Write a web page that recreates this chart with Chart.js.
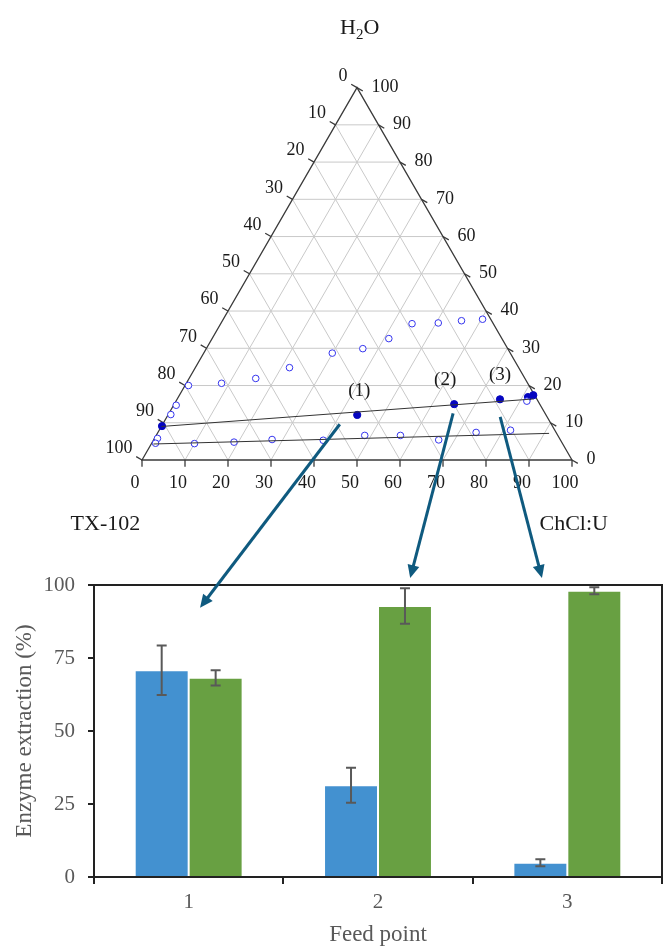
<!DOCTYPE html>
<html>
<head>
<meta charset="utf-8">
<script src="https://cdn.jsdelivr.net/npm/chart.js@4.4.1/dist/chart.umd.min.js"></script>
<style>
  html, body { margin: 0; padding: 0; background: #fff; }
  #wrap { position: relative; width: 663px; height: 946px; overflow: hidden; }
  #wrap canvas { position: absolute; left: 0; top: 0; }
  #ternary { pointer-events: none; }
</style>
</head>
<body>
<div id="wrap">
  <canvas id="bars" width="663" height="946"></canvas>
  <canvas id="ternary" width="663" height="946"></canvas>
</div>
<script>
// ---------- Phase diagram, compositions in wt % ----------
// binodal points (open circles)
const binodalChCl = [0.8, 8.2, 15.5, 21.9, 29.9, 36.4, 41.1, 44.5, 50.5, 55.6, 60.3,
                     0.6, 0.6, 0.7, 0.9,
                     10.0, 19.0, 27.5, 39.5, 48.5, 56.8, 66.3, 74.0, 81.7, 81.6];
const binodalH2O  = [20.0, 20.6, 21.9, 24.8, 28.7, 29.9, 32.6, 36.6, 36.8, 37.4, 37.8,
                     14.7, 12.2, 5.8, 4.5,
                     4.4, 4.8, 5.5, 5.3, 6.6, 6.6, 5.4, 7.4, 8.0, 15.8];
// coexisting phase compositions (filled)
const phaseChCl = [0.1, 82.3, 81.3];
const phaseH2O  = [9.1, 17.4, 16.9];
// feed points (1), (2), (3)
const feedChCl = [44.0, 65.1, 75.1];
const feedH2O  = [12.1, 15.0, 16.3];
const feedNames = ['(1)', '(2)', '(3)'];
// tie lines: [start, end]
const tieUpperChCl = [0.0, 82.9];
const tieUpperH2O  = [9.0, 16.4];
const tieLowerChCl = [0.5, 91.1];
const tieLowerH2O  = [4.3, 7.15];
// axis ticks
const ternaryTicks = [0, 10, 20, 30, 40, 50, 60, 70, 80, 90, 100];

// ---------- Enzyme extraction ----------
const feedPoints = ['1', '2', '3'];
const extractionBlue = [70.8, 31.4, 4.9];
const errorBlue      = [8.5, 6.0, 1.2];
const extractionGreen = [68.2, 92.8, 98.0];
const errorGreen      = [2.6, 6.1, 1.2];
const extractionTicks = [0, 25, 50, 75, 100];

// arrows from the diagram to the bar groups
const arrowFromChCl = [41.2, 66.1, 77.5];
const arrowFromH2O  = [9.6, 12.5, 11.6];
const arrowToIndex  = [0.06, 1.17, 1.866];
const arrowToValue  = [92.2, 102.4, 102.4];

const SERIF = '"Liberation Serif", "Times New Roman", serif';
const H = Math.sqrt(3) / 2;
// ternary (ChCl:U, H2O) -> cartesian on a unit-100 triangle
function tern(c, w) { return { x: c + w / 2, y: w * H }; }

// ---------- bar chart ----------
const errorBars = {
  id: 'errorBars',
  afterDatasetsDraw(chart) {
    const ctx = chart.ctx, ys = chart.scales.y;
    [errorBlue, errorGreen].forEach((errs, di) => {
      const meta = chart.getDatasetMeta(di);
      meta.data.forEach((bar, i) => {
        const v = chart.data.datasets[di].data[i];
        const yt = ys.getPixelForValue(v + errs[i]);
        const yb = ys.getPixelForValue(v - errs[i]);
        ctx.save();
        ctx.strokeStyle = '#595959';
        ctx.lineWidth = 2;
        ctx.beginPath();
        ctx.moveTo(bar.x, yt); ctx.lineTo(bar.x, yb);
        ctx.moveTo(bar.x - 5, yt); ctx.lineTo(bar.x + 5, yt);
        ctx.moveTo(bar.x - 5, yb); ctx.lineTo(bar.x + 5, yb);
        ctx.stroke();
        ctx.restore();
      });
    });
  },
  afterDraw(chart) {
    const { ctx, chartArea: a } = chart;
    ctx.save();
    ctx.strokeStyle = '#222';
    ctx.lineWidth = 2;
    ctx.beginPath();
    ctx.moveTo(a.left, a.top); ctx.lineTo(a.right, a.top); ctx.lineTo(a.right, a.bottom);
    ctx.stroke();
    ctx.restore();
  }
};

const barChart = new Chart(document.getElementById('bars'), {
  type: 'bar',
  data: {
    labels: feedPoints,
    datasets: [
      { data: extractionBlue, backgroundColor: '#4391d0', borderColor: 'rgba(255,255,255,0.55)', borderWidth: 1 },
      { data: extractionGreen, backgroundColor: '#68a042', borderColor: 'rgba(255,255,255,0.55)', borderWidth: 1 }
    ]
  },
  options: {
    responsive: false,
    animation: false,
    devicePixelRatio: 1,
    layout: { padding: { left: 0, right: 1, top: 585, bottom: 0 } },
    datasets: { bar: { categoryPercentage: 0.57, barPercentage: 1 } },
    plugins: { legend: { display: false }, tooltip: { enabled: false } },
    scales: {
      x: {
        grid: { offset: true, drawOnChartArea: false, tickLength: 7, color: '#222', lineWidth: 2 },
        border: { color: '#222', width: 2 },
        ticks: { color: '#595959', font: { family: SERIF, size: 21 }, padding: 6 },
        title: { display: true, text: 'Feed point', color: '#595959',
                 font: { family: SERIF, size: 23, lineHeight: 1 }, padding: { top: 0, bottom: 0 } },
        afterFit(s) { s.height = 69; }
      },
      y: {
        min: 0, max: 100,
        afterBuildTicks(s) { s.ticks = extractionTicks.map(v => ({ value: v })); },
        grid: { drawOnChartArea: false, tickLength: 6, color: '#222', lineWidth: 2 },
        border: { color: '#222', width: 2 },
        ticks: { color: '#595959', font: { family: SERIF, size: 21 }, padding: 13 },
        title: { display: true, text: 'Enzyme extraction (%)', color: '#595959',
                 font: { family: SERIF, size: 23 }, padding: { top: 11, bottom: 0 } },
        afterFit(s) { s.width = 94; }
      }
    }
  },
  plugins: [errorBars]
});

// ---------- ternary diagram ----------
function pt(chart, c, w) {
  const p = tern(c, w);
  return { x: chart.scales.x.getPixelForValue(p.x), y: chart.scales.y.getPixelForValue(p.y) };
}
function line(ctx, a, b) { ctx.moveTo(a.x, a.y); ctx.lineTo(b.x, b.y); }

const ternaryFrame = {
  id: 'ternaryFrame',
  beforeDatasetsDraw(chart) {
    const ctx = chart.ctx;
    ctx.save();
    // grid
    ctx.strokeStyle = '#c9c9c9';
    ctx.lineWidth = 1;
    ctx.beginPath();
    ternaryTicks.slice(1, -1).forEach(v => {
      line(ctx, pt(chart, 0, v), pt(chart, 100 - v, v));          // constant H2O
      line(ctx, pt(chart, v, 0), pt(chart, v, 100 - v));          // constant ChCl:U
      line(ctx, pt(chart, 100 - v, 0), pt(chart, 0, 100 - v));    // constant TX-102
    });
    ctx.stroke();
    // frame
    ctx.strokeStyle = '#3a3a3a';
    ctx.lineWidth = 1.3;
    ctx.beginPath();
    const A = pt(chart, 0, 0), B = pt(chart, 100, 0), C = pt(chart, 0, 100);
    ctx.moveTo(A.x, A.y); ctx.lineTo(B.x, B.y); ctx.lineTo(C.x, C.y); ctx.closePath();
    ctx.stroke();
    // ticks
    ctx.beginPath();
    ternaryTicks.forEach(v => {
      line(ctx, pt(chart, v, 0), pt(chart, v + 0.9, -1.8));             // bottom
      line(ctx, pt(chart, 0, 100 - v), pt(chart, -1.8, 100 - v + 0.9)); // left
      line(ctx, pt(chart, 100 - v, v), pt(chart, 100 - v + 1.8, v - 0.9)); // right
    });
    ctx.stroke();
    // tick labels
    ctx.fillStyle = '#1a1a1a';
    ctx.font = '18px ' + SERIF;
    ctx.textBaseline = 'middle';
    ternaryTicks.forEach(v => {
      const b = pt(chart, v, 0);
      ctx.textAlign = 'center';
      ctx.fillText(String(v), b.x - 7, b.y + 23);
      const l = pt(chart, 0, 100 - v);
      ctx.textAlign = 'right';
      ctx.fillText(String(v), l.x - 9.5, l.y - 11.5);
      const r = pt(chart, 100 - v, v);
      ctx.textAlign = 'left';
      ctx.fillText(String(v), r.x + 14.5, r.y - 0.5);
    });
    // component names
    ctx.textBaseline = 'alphabetic';
    ctx.font = '22px ' + SERIF;
    ctx.textAlign = 'center';
    ctx.fillText('TX-102', A.x - 36.6, A.y + 70);
    ctx.fillText('ChCl:U', B.x + 1.7, B.y + 70);
    // H2O with subscript
    ctx.textAlign = 'left';
    let x0 = C.x - 17, y0 = C.y - 54;
    ctx.fillText('H', x0, y0);
    x0 += ctx.measureText('H').width;
    ctx.font = '15px ' + SERIF;
    ctx.fillText('2', x0, y0 + 5);
    x0 += ctx.measureText('2').width;
    ctx.font = '22px ' + SERIF;
    ctx.fillText('O', x0, y0);
    ctx.restore();
  },
  afterDatasetsDraw(chart) {
    const ctx = chart.ctx;
    ctx.save();
    // feed labels
    const dx = [2, -9, 0];
    ctx.fillStyle = '#1a1a1a';
    ctx.font = '19px ' + SERIF;
    ctx.textAlign = 'center';
    ctx.textBaseline = 'middle';
    feedNames.forEach((n, i) => {
      const p = pt(chart, feedChCl[i], feedH2O[i]);
      ctx.fillText(n, p.x + dx[i], p.y - 24);
    });
    // arrows to the bar chart
    const bx = barChart.scales.x, by = barChart.scales.y;
    ctx.strokeStyle = '#0f5a7f';
    ctx.fillStyle = '#0f5a7f';
    ctx.lineWidth = 3;
    arrowFromChCl.forEach((c, i) => {
      const s = pt(chart, c, arrowFromH2O[i]);
      const e = { x: bx.getPixelForValue(arrowToIndex[i]), y: by.getPixelForValue(arrowToValue[i]) };
      const ang = Math.atan2(e.y - s.y, e.x - s.x);
      const head = 13, half = 6;
      const bxp = e.x - Math.cos(ang) * head, byp = e.y - Math.sin(ang) * head;
      ctx.beginPath();
      ctx.moveTo(s.x, s.y);
      ctx.lineTo(e.x - Math.cos(ang) * (head - 2), e.y - Math.sin(ang) * (head - 2));
      ctx.stroke();
      ctx.beginPath();
      ctx.moveTo(e.x, e.y);
      ctx.lineTo(bxp + Math.sin(ang) * half, byp - Math.cos(ang) * half);
      ctx.lineTo(bxp - Math.sin(ang) * half, byp + Math.cos(ang) * half);
      ctx.closePath();
      ctx.fill();
    });
    ctx.restore();
  }
};

function pts(cs, ws) { return cs.map((c, i) => tern(c, ws[i])); }

new Chart(document.getElementById('ternary'), {
  type: 'scatter',
  data: {
    datasets: [
      { data: pts(tieUpperChCl, tieUpperH2O), showLine: true, borderColor: '#333', borderWidth: 1, pointRadius: 0 },
      { data: pts(tieLowerChCl, tieLowerH2O), showLine: true, borderColor: '#333', borderWidth: 1, pointRadius: 0 },
      { data: pts(binodalChCl, binodalH2O), pointRadius: 3.3, borderColor: '#3535ee', backgroundColor: '#fff', borderWidth: 1 },
      { data: pts(phaseChCl, phaseH2O), pointRadius: 3.6, borderColor: '#0505c0', backgroundColor: '#0505c0', borderWidth: 1 },
      { data: pts(feedChCl, feedH2O), pointRadius: 3.6, borderColor: '#0505c0', backgroundColor: '#0505c0', borderWidth: 1 }
    ]
  },
  options: {
    responsive: false,
    animation: false,
    devicePixelRatio: 1,
    clip: false,
    layout: { padding: { left: 142, right: 91, top: 87.6, bottom: 486 } },
    plugins: { legend: { display: false }, tooltip: { enabled: false } },
    scales: {
      x: { type: 'linear', min: 0, max: 100, display: false },
      y: { type: 'linear', min: 0, max: 100 * H, display: false }
    }
  },
  plugins: [ternaryFrame]
});
</script>
</body>
</html>
